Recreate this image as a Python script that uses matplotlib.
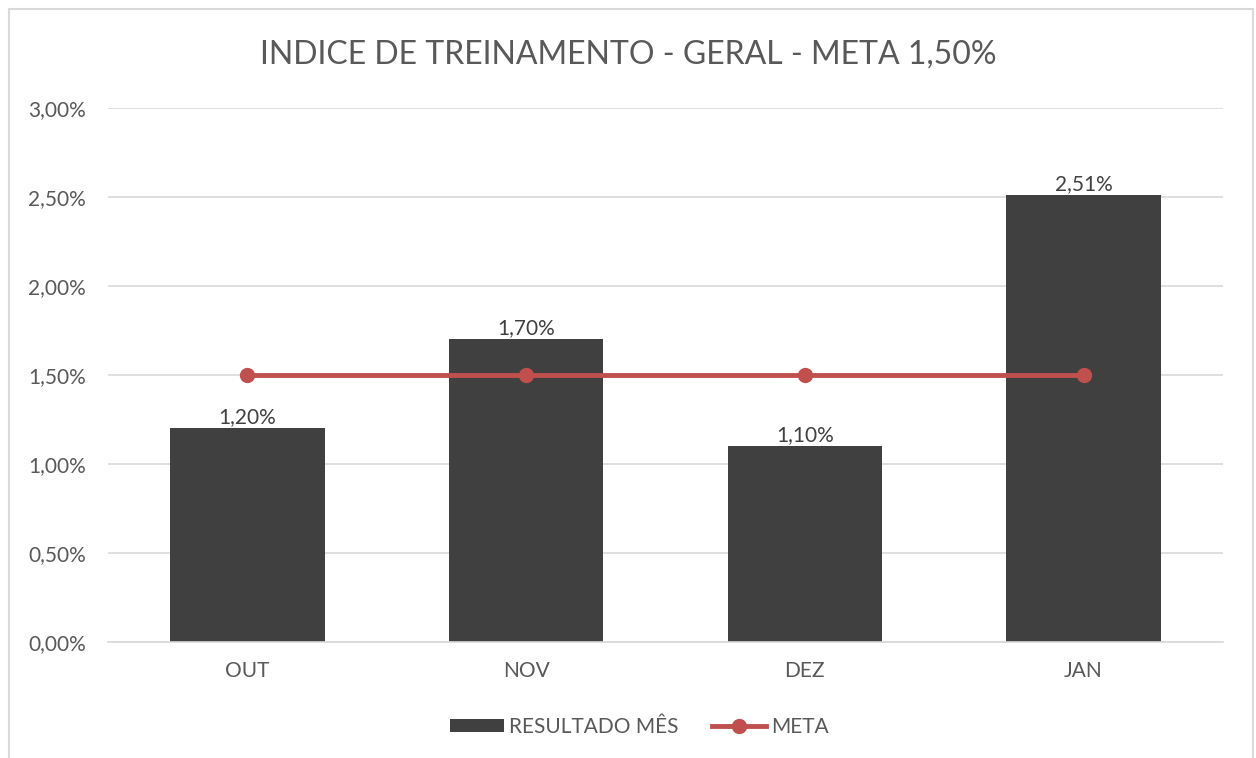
import matplotlib.pyplot as plt
from matplotlib.patches import Rectangle
from matplotlib.ticker import FuncFormatter

plt.rcParams['font.family'] = ['Lato', 'DejaVu Sans']

# data
meses = ['OUT', 'NOV', 'DEZ', 'JAN']
resultado = [1.20, 1.70, 1.10, 2.51]
meta = [1.50, 1.50, 1.50, 1.50]
ticks_y = [0.0, 0.5, 1.0, 1.5, 2.0, 2.5, 3.0]

cinza = '#595959'

fig = plt.figure(figsize=(12.56, 7.58), dpi=100)
ax = fig.add_axes([0.086, 0.153, 0.8877, 0.7045])

# borda do grafico
fig.patches.append(Rectangle((9 / 1256, -0.01), 1244 / 1256, 1 - 9 / 758 + 0.01,
                             transform=fig.transFigure, fill=False,
                             edgecolor='#D9D9D9', linewidth=1.5))

x = range(len(meses))
bars = ax.bar(x, resultado, width=0.555, color='#404040', label='RESULTADO MÊS', zorder=2)
linha, = ax.plot(x, meta, color='#C0504D', linewidth=3.5, marker='o', markersize=10,
                 label='META', zorder=3)

for b, v in zip(bars, resultado):
    ax.text(b.get_x() + b.get_width() / 2, v + 0.005, f'{v:.2f}%'.replace('.', ','),
            ha='center', va='bottom', fontsize=15, color='#404040', zorder=4)

ax.set_xlim(-0.5, 3.5)
ax.set_ylim(0, 3.0)
ax.set_yticks(ticks_y)
ax.yaxis.set_major_formatter(FuncFormatter(lambda v, p: f'{v:.2f}%'.replace('.', ',')))
ax.set_xticks(list(x))
ax.set_xticklabels(meses)
ax.tick_params(axis='both', length=0, labelsize=15, colors=cinza)
ax.tick_params(axis='x', pad=14)
ax.tick_params(axis='y', pad=16)
ax.grid(axis='y', color='#D9D9D9', linewidth=1.2, zorder=0)
ax.set_axisbelow(True)
for s in ['top', 'right', 'left']:
    ax.spines[s].set_visible(False)
ax.spines['bottom'].set_color('#D9D9D9')
ax.spines['bottom'].set_linewidth(1.2)

fig.text(0.5, 0.928, 'INDICE DE TREINAMENTO - GERAL - META 1,50%', ha='center', va='center',
         fontsize=23, color=cinza)

fig.legend([bars, linha], ['RESULTADO MÊS', 'META'], loc='center',
           bbox_to_anchor=(0.509, 0.041), ncol=2, frameon=False,
           fontsize=15, labelcolor=cinza, handlelength=2.6, handleheight=0.55,
           handletextpad=0.25, columnspacing=1.6)

fig.savefig('out.png', dpi=100)
